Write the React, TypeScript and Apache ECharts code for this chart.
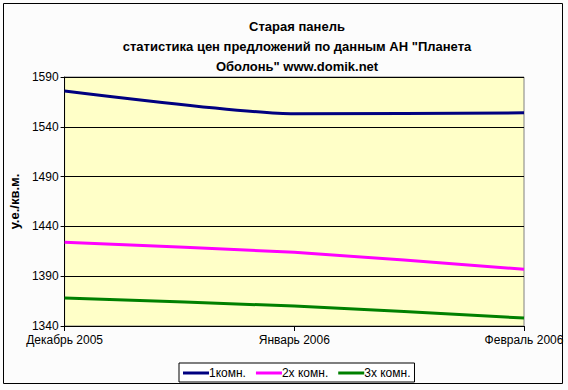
import React, { useEffect, useRef } from "react";
import * as echarts from "echarts";

const categories = ["Декабрь 2005", "Январь 2006", "Февраль 2006"];
const oneRoom = [1576, 1553, 1554];
const twoRoom = [1424, 1414, 1397];
const threeRoom = [1368, 1360, 1348];
const seriesNames = ["1комн.", "2х комн.", "3х комн."];
const titleText = "Старая панель\nстатистика цен предложений по данным АН \"Планета\nОболонь\" www.domik.net";
const yAxisName = "у.е./кв.м.";

export default function App() {
  const ref = useRef<HTMLDivElement>(null);
  useEffect(() => {
    if (!ref.current) return;
    const chart = echarts.init(ref.current, undefined, { renderer: "svg" });
    const font = "'Liberation Sans', Arial, sans-serif";
    const mk = (name: string, data: number[], color: string) => ({
      name,
      type: "line",
      data,
      smooth: 0.2,
      symbol: "none",
      lineStyle: { color, width: 3 },
      itemStyle: { color },
    });
    chart.setOption({
      animation: false,
      backgroundColor: "#FCFCFC",
      textStyle: { fontFamily: font },
      title: {
        text: titleText,
        left: 292,
        textAlign: "center",
        top: 11,
        textStyle: { fontSize: 13, fontWeight: "bold", color: "#000", lineHeight: 20, fontFamily: font },
      },
      graphic: [
        {
          type: "rect",
          shape: { x: 3.5, y: 3.5, width: 559, height: 380 },
          style: { fill: "none", stroke: "#000", lineWidth: 1 },
          silent: true,
        },
      ],
      legend: {
        bottom: 8,
        left: 179,
        itemWidth: 26,
        itemHeight: 3,
        itemGap: 10,
        icon: "rect",
        padding: [4, 4, 3, 4],
        borderColor: "#000",
        borderWidth: 1,
        backgroundColor: "#fff",
        textStyle: { fontSize: 12, color: "#000", fontFamily: font, padding: [0, 0, 0, -5] },
        data: seriesNames,
      },
      grid: { left: 64, right: 44, top: 77, bottom: 64, show: true, backgroundColor: "#FFFFC8", borderColor: "#808080", borderWidth: 1 },
      xAxis: {
        type: "category",
        data: categories,
        boundaryGap: false,
        axisLine: { lineStyle: { color: "#000" } },
        axisTick: { show: true, length: 5, lineStyle: { color: "#000" } },
        axisLabel: { fontSize: 12, color: "#000", margin: 8, fontFamily: font },
        splitLine: { show: false },
      },
      yAxis: {
        type: "value",
        min: 1340,
        max: 1590,
        interval: 50,
        name: yAxisName,
        nameLocation: "middle",
        nameGap: 40,
        nameTextStyle: { fontSize: 13, fontWeight: "bold", color: "#000", fontFamily: font },
        axisLine: { show: true, lineStyle: { color: "#000" } },
        axisTick: { show: true, length: 4, lineStyle: { color: "#000" } },
        axisLabel: { fontSize: 12, color: "#000", margin: 6, fontFamily: font, formatter: (v: number) => String(v) },
        splitLine: { show: true, lineStyle: { color: "#000", width: 1 } },
      },
      series: [
        mk(seriesNames[0], oneRoom, "#000080"),
        mk(seriesNames[1], twoRoom, "#FF00FF"),
        mk(seriesNames[2], threeRoom, "#008000"),
      ],
    });
    return () => chart.dispose();
  }, []);
  return <div ref={ref} style={{ width: 568, height: 390, position: "absolute", left: 0, top: 0 }} />;
}
